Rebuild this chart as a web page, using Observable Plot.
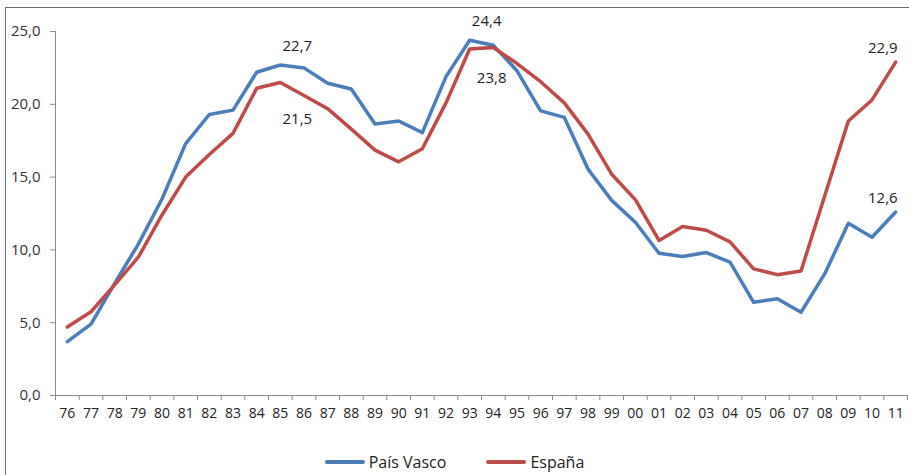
<!DOCTYPE html>
<html>
<head>
<meta charset="utf-8">
<script src="https://cdn.jsdelivr.net/npm/d3@7"></script>
<script src="https://cdn.jsdelivr.net/npm/@observablehq/plot@0.6"></script>
<style>
  body { margin: 0; background: #fff; font-family: "Open Sans", "Noto Sans", sans-serif; }
  #wrap { position: relative; width: 909px; height: 475px; overflow: hidden; }
  #frame { position: absolute; left: 5px; top: 7px; width: 1000px; height: 1000px;
    border-top: 1.5px solid #6b6b6b; border-left: 1.5px solid #6b6b6b; }
  #chart { position: absolute; left: 0; top: 0; }
  #legend { position: absolute; top: 447px; left: 0; width: 909px; text-align: center;
    font-size: 16px; color: #222; }
  .item { display: inline-flex; align-items: center; margin: 0 20px; }
  .sw { display: inline-block; width: 40px; height: 4px; margin-right: 4px; border-radius: 2px; }
</style>
</head>
<body>
<div id="wrap">
  <div id="frame"></div>
  <div id="chart"></div>
  <div id="legend"></div>
</div>
<script>
// años (etiquetas eje x)
const years = ['76','77','78','79','80','81','82','83','84','85','86','87','88','89','90','91','92','93',
  '94','95','96','97','98','99','00','01','02','03','04','05','06','07','08','09','10','11']

const paisVasco = [3.7, 4.9, 7.7, 10.4, 13.5, 17.3, 19.3, 19.6, 22.2, 22.7, 22.5, 21.45, 21.05, 18.65, 18.85, 18.05, 21.9, 24.4,
  24.05, 22.3, 19.55, 19.1, 15.55, 13.4, 11.9, 9.77, 9.55, 9.82, 9.16, 6.4, 6.64, 5.72, 8.35, 11.83, 10.87, 12.6]
const espana = [4.7, 5.75, 7.6, 9.5, 12.4, 15.0, 16.55, 18.0, 21.1, 21.5, 20.6, 19.7, 18.3, 16.85, 16.05, 16.95, 20.1, 23.8,
  23.9, 22.8, 21.55, 20.1, 17.95, 15.2, 13.45, 10.65, 11.6, 11.35, 10.55, 8.7, 8.3, 8.55, 13.7, 18.85, 20.3, 22.9]

const series = ['País Vasco', 'España']
const colors = ['#4a7ebb', '#be4b48']

// etiquetas de valores: [serie, índice año]
const labelsUp = [['País Vasco', 9], ['País Vasco', 17]]
const labelsDown = [['España', 9], ['España', 17]]
const labelsEnd = [['España', 35], ['País Vasco', 35]]

const data = [
  ...paisVasco.map((v, i) => ({ serie: 'País Vasco', i, v })),
  ...espana.map((v, i) => ({ serie: 'España', i, v })),
]
const find = ([s, i]) => data.find(d => d.serie === s && d.i === i)
const fmt = v => v.toFixed(1).replace('.', ',')

const chart = Plot.plot({
  width: 909,
  height: 440,
  marginTop: 31,
  marginLeft: 55,
  marginRight: 2,
  marginBottom: 45,
  style: { fontFamily: '"Open Sans", "Noto Sans", sans-serif', fontSize: '15px', color: '#333', background: 'transparent' },
  x: { type: 'linear', domain: [-0.5, years.length - 0.5] },
  y: { domain: [0, 25] },
  color: { domain: series, range: colors },
  marks: [
    Plot.ruleY([0], { stroke: '#8a8a8a', strokeWidth: 1 }),
    Plot.ruleX([-0.5], { stroke: '#8a8a8a', strokeWidth: 1 }),
    Plot.axisY({ ticks: d3.range(0, 26, 5), tickFormat: fmt, tickSize: 5, tickPadding: 10, stroke: '#8a8a8a', label: null, fill: '#333' }),
    Plot.axisX({ ticks: d3.range(-0.5, years.length, 1), tickFormat: () => '', tickSize: 5, stroke: '#8a8a8a', label: null }),
    Plot.axisX({ ticks: d3.range(0, years.length), tickFormat: i => years[i], tickSize: 0, tickPadding: 13, label: null, fontSize: 14, fill: '#222' }),
    Plot.line(data, { x: 'i', y: 'v', z: 'serie', stroke: 'serie', strokeWidth: 3.5, curve: 'linear' }),
    Plot.text(labelsUp.map(find), { x: 'i', y: 'v', text: d => fmt(d.v), dy: -19, dx: 17, fill: '#222', fontSize: 15 }),
    Plot.text([find(labelsDown[0])], { x: 'i', y: 'v', text: d => fmt(d.v), dy: 37, dx: 17, fill: '#222', fontSize: 15 }),
    Plot.text([find(labelsDown[1])], { x: 'i', y: 'v', text: d => fmt(d.v), dy: 29, dx: 22, fill: '#222', fontSize: 15 }),
    Plot.text(labelsEnd.map(find), { x: 'i', y: 'v', text: d => fmt(d.v), dy: -14, dx: 2, textAnchor: 'end', fill: '#222', fontSize: 15 }),
  ],
})
d3.select('#chart').append(() => chart)

const legend = d3.select('#legend')
series.forEach((s, k) => {
  const it = legend.append('span').attr('class', 'item')
  it.append('span').attr('class', 'sw').style('background', colors[k])
  it.append('span').text(s)
})
</script>
</body>
</html>
